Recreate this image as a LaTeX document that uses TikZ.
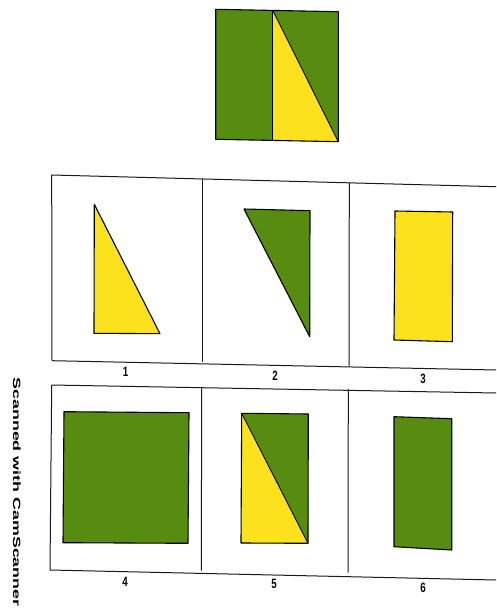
\documentclass[tikz,border=0pt]{standalone}
\usepackage{fontspec}
\newfontfamily\labfont{Liberation Sans}
\definecolor{gr}{RGB}{86,140,16}
\definecolor{ye}{RGB}{252,226,28}
\begin{document}
\begin{tikzpicture}[x=1pt,y=-1pt,line join=round,
  frame/.style={draw=black!90,line width=1pt},
  shp/.style={draw=black,line width=1.1pt},
  lab/.style={font=\labfont\bfseries\fontsize{13.5}{15}\selectfont,inner sep=0pt,xscale=0.72,transform shape}]
\useasboundingbox (0,0) rectangle (496,612);
\fill[white] (0,0) rectangle (496,612);
% top figure
\fill[gr] (215.7,9.3) -- (338.3,11.7) -- (338.3,141.7) -- (215.7,139.3) -- cycle;
\fill[ye] (272.7,10.3) -- (338.3,141.7) -- (272.7,140.4) -- cycle;
\draw[shp] (215.7,9.3) -- (338.3,11.7) -- (338.3,141.7) -- (215.7,139.3) -- cycle;
\draw[shp,line width=0.8pt] (272.7,10.3) -- (272.7,140.4);
\draw[shp,line width=0.9pt] (272.7,10.3) -- (338.3,141.7);
% row 1 frame
\draw[frame] (51.7,175) -- (496,186.7);
\draw[frame] (52,360.7) -- (496,370);
\draw[frame] (51.7,175) -- (52,360.7);
\draw[frame] (202.3,179) -- (202.3,362.2);
\draw[frame] (349.3,182.8) -- (349,366);
% shape 1
\fill[ye] (94.3,204.3) -- (160,333.7) -- (94,333.3) -- cycle;
\draw[shp] (94.3,204.3) -- (160,333.7) -- (94,333.3) -- cycle;
% shape 2
\fill[gr] (244,209) -- (310,210.7) -- (309.7,336.7) -- cycle;
\draw[shp] (244,209) -- (310,210.7) -- (309.7,336.7) -- cycle;
% shape 3
\fill[ye] (395,211) -- (452.7,212) -- (452.3,341.7) -- (394,340) -- cycle;
\draw[shp] (395,211) -- (452.7,212) -- (452.3,341.7) -- (394,340) -- cycle;
% labels row 1
\node[lab] (l1) at (125.7,372) {1};
\node[lab] (l2) at (275,375.5) {2};
\node[lab] (l3) at (423,378.5) {3};
% row 2 frame
\draw[frame] (51.7,385) -- (496,393);
\draw[frame] (50,570) -- (496,580);
\draw[frame] (51.7,385) -- (50,570);
\draw[frame] (201.7,386.8) -- (201.3,570.7);
\draw[frame] (348.3,388.8) -- (348,572.5);
% shape 4
\fill[gr] (64,411.7) -- (189,412.7) -- (188,543.3) -- (63,542.7) -- cycle;
\draw[shp] (64,411.7) -- (189,412.7) -- (188,543.3) -- (63,542.7) -- cycle;
% shape 5
\fill[gr] (241.7,413.3) -- (308.3,414) -- (308,543.3) -- (241,543) -- cycle;
\fill[ye] (241.7,413.3) -- (308,543.3) -- (241,543) -- cycle;
\draw[shp] (241.7,413.3) -- (308.3,414) -- (308,543.3) -- (241,543) -- cycle;
\draw[shp,line width=0.9pt] (241.7,413.3) -- (308,543.3);
% shape 6
\fill[gr] (394,416.7) -- (451.7,418.7) -- (451.7,550) -- (394,546.7) -- cycle;
\draw[shp] (394,416.7) -- (451.7,418.7) -- (451.7,550) -- (394,546.7) -- cycle;
% labels row 2
\node[lab] (l4) at (125,582) {4};
\node[lab] (l5) at (274,583.5) {5};
\node[lab] (l6) at (423,587.5) {6};
% watermark
\node[rotate=-90,inner sep=0pt,font=\labfont\bfseries\fontsize{10.5}{12}\selectfont] (wm) at (17,492)
  {\scalebox{1.70}[1]{Scanned with CamScanner}};
\end{tikzpicture}
\end{document}
